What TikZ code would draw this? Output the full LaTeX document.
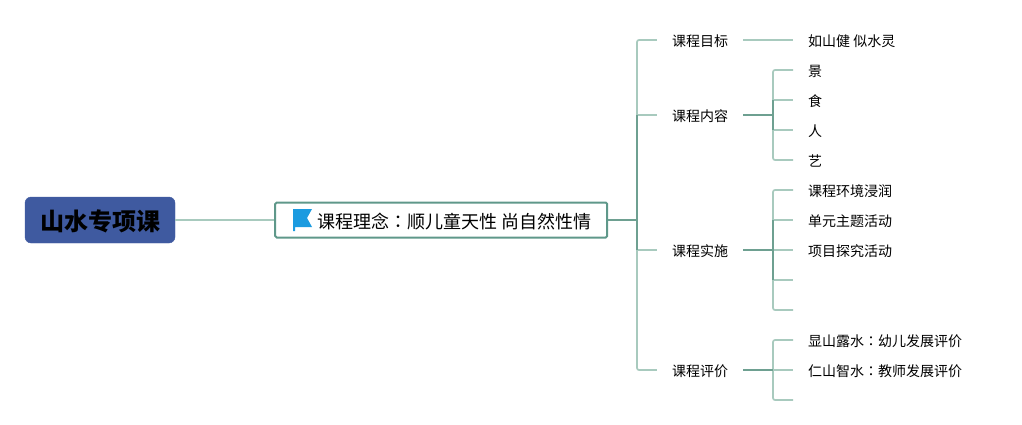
\documentclass[tikz,border=0pt]{standalone}
\usepackage{fontspec}
\setmainfont{Noto Sans CJK SC}
\newfontfamily\colonfont{Noto Sans CJK TC}
\usetikzlibrary{positioning}
\definecolor{rootblue}{RGB}{63,90,160}
\definecolor{themegreen}{RGB}{95,152,138}
\definecolor{darklink}{RGB}{110,160,145}
\definecolor{lightlink}{RGB}{168,202,190}
\definecolor{flagblue}{RGB}{27,155,224}

\begin{document}
\begin{tikzpicture}[
    x=1pt, y=-1pt,
    root/.style={draw=rootblue, fill=rootblue, rounded corners=6pt, minimum width=150pt, minimum height=46pt, text height=21.4pt, text depth=0pt, font=\fontsize{24}{28}\selectfont\bfseries, inner sep=0pt},
    theme/.style={draw=themegreen, line width=2pt, fill=white, rounded corners=1.5pt, minimum width=332pt, minimum height=35pt, inner sep=0pt},
    branch/.style={minimum width=86pt, minimum height=20pt, inner sep=0pt, text height=12.8pt, text depth=0pt, font=\fontsize{14}{18}\selectfont},
    leaf/.style={anchor=west, minimum height=20pt, inner sep=0pt, inner xsep=15pt, text height=12.8pt, text depth=0pt, font=\fontsize{14}{18}\selectfont},
    twig/.style={draw=lightlink, line width=1.7pt, rounded corners=2pt},
    stem/.style={draw=darklink, line width=2pt},
]
    \useasboundingbox (0,0) rectangle (1022,425);

    \node[root] (course) at (100,220) {山水专项课};
    \node[theme, right=99pt of course] (idea) {};
    \node[anchor=west, font=\fontsize{18}{22}\selectfont, inner sep=0pt] (ideatext) at (317.5,222) {课程理念{\colonfont ：}顺儿童天性 尚自然性情};

    % flag
    \fill[flagblue] (293,209) -- (312,209) -- (307,218) -- (312,227) -- (295,227) -- (295,231) -- (293,231) -- cycle;

    \node[branch] (goal) at (700,40) {课程目标};
    \node[branch] (content) at (700,115) {课程内容};
    \node[branch] (practice) at (700,250) {课程实施};
    \node[branch] (review) at (700,370) {课程评价};

    \node[leaf] (motto) at (793,40) {如山健 似水灵};
    \node[leaf] (scene) at (793,70) {景};
    \node[leaf] (food) at (793,100) {食};
    \node[leaf] (people) at (793,130) {人};
    \node[leaf] (art) at (793,160) {艺};
    \node[leaf] (soak) at (793,190) {课程环境浸润};
    \node[leaf] (unit) at (793,220) {单元主题活动};
    \node[leaf] (project) at (793,250) {项目探究活动};
    \coordinate (blankA) at (793,280);
    \coordinate (blankB) at (793,310);
    \node[leaf] (child) at (793,340) {显山露水{\colonfont ：}幼儿发展评价};
    \node[leaf] (teacher) at (793,370) {仁山智水{\colonfont ：}教师发展评价};
    \coordinate (blankC) at (793,400);

    \coordinate (trunk) at (637,220);
    \coordinate (contentfork) at (773,115);
    \coordinate (practicefork) at (773,250);
    \coordinate (reviewfork) at (773,370);

    \draw[twig] (course) -- (idea);
    \draw[twig] (trunk) |- (goal.west);
    \draw[twig] (trunk |- content.west) -- (content.west);
    \draw[twig] (trunk |- practice.west) -- (practice.west);
    \draw[twig] (trunk) |- (review.west);
    \draw[twig] (goal) -- (motto);

    \draw[twig] (contentfork) |- (scene.west);
    \draw[twig] (contentfork |- food.west) -- (food.west);
    \draw[twig] (contentfork |- people.west) -- (people.west);
    \draw[twig] (contentfork) |- (art.west);

    \draw[twig] (practicefork) |- (soak.west);
    \draw[twig] (practicefork |- unit.west) -- (unit.west);
    \draw[twig] (practicefork) -- (project.west);
    \draw[twig] (practicefork |- blankA) -- (blankA);
    \draw[twig] (practicefork) |- (blankB);

    \draw[twig] (reviewfork) |- (child.west);
    \draw[twig] (reviewfork) -- (teacher.west);
    \draw[twig] (reviewfork) |- (blankC);

    \draw[stem] (idea.east) -- (trunk);
    \draw[stem] (trunk |- content.west) -- (trunk |- practice.west);
    \draw[stem] (content) -- (contentfork);
    \draw[stem] (contentfork |- food.west) -- (contentfork |- people.west);
    \draw[stem] (practice) -- (practicefork);
    \draw[stem] (practicefork |- unit.west) -- (practicefork |- blankA);
    \draw[stem] (review) -- (reviewfork);
\end{tikzpicture}
\end{document}
